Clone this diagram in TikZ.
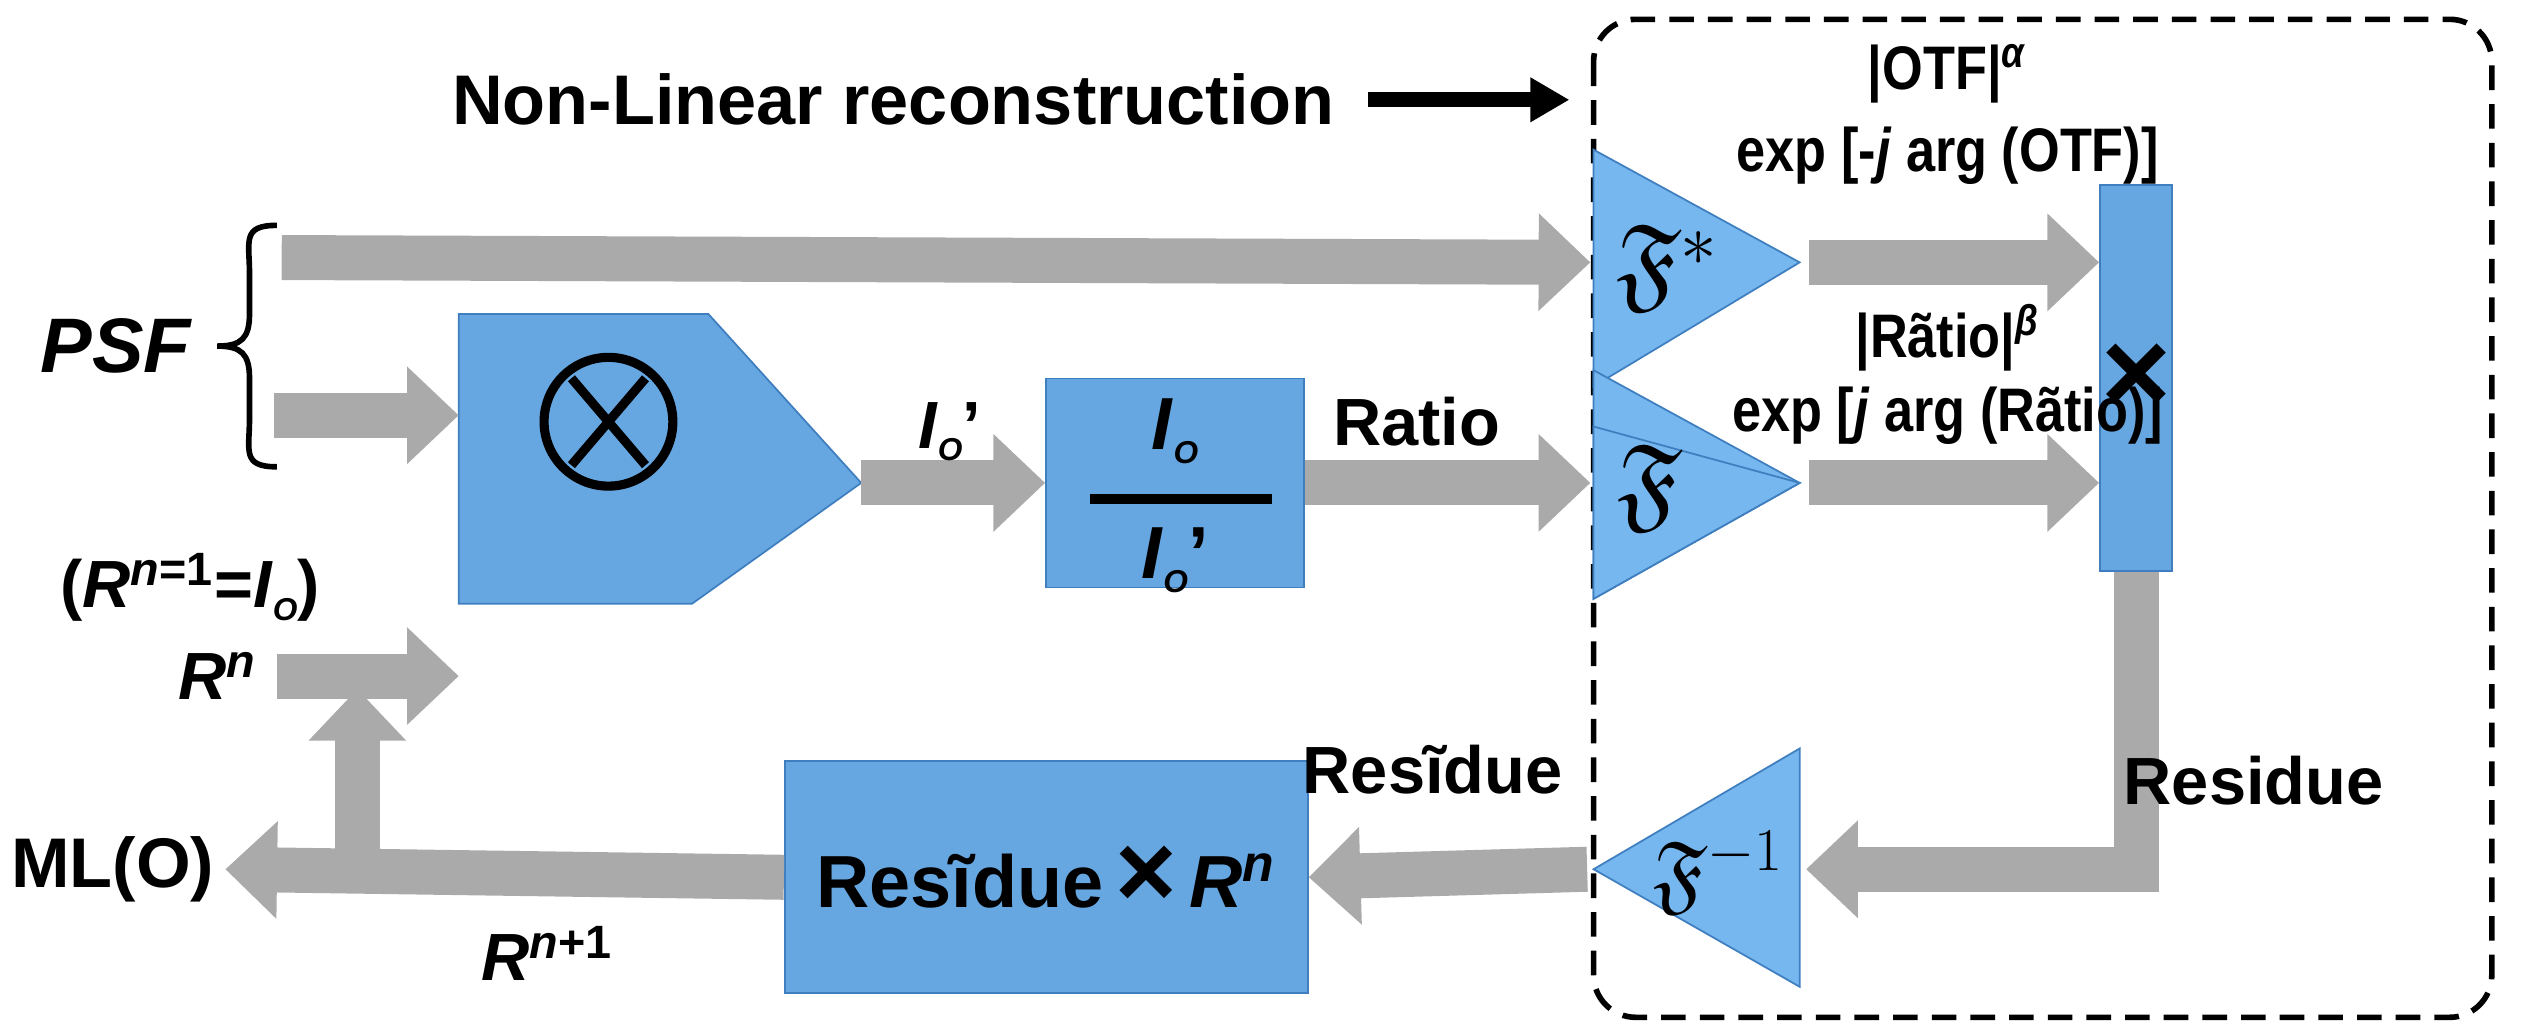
\documentclass[tikz,border=0pt]{standalone}
\usepackage{fontspec}
\usepackage{amssymb}
\setmainfont{Liberation Sans}
\newfontfamily\narrowfont{Liberation Sans}[FakeStretch=0.85]
\usetikzlibrary{arrows.meta}
\definecolor{arrowgray}{HTML}{AAAAAA}
\definecolor{boxblue}{HTML}{66A7E2}
\definecolor{triblue}{HTML}{76B7F0}
\definecolor{edgeblue}{HTML}{3F7FBF}
\newcommand{\myIO}{\textit{I}\raisebox{-0.35ex}{\small\textit{O}}}
\begin{document}
\begin{tikzpicture}[x=0.16097mm,y=-0.16097mm,
  garrow/.style={draw=arrowgray, line width=4.5mm, line join=miter,
     -{Triangle[length=0pt 1.15, width=0pt 2.1, fill=arrowgray]}},
  blk/.style={draw=edgeblue, fill=boxblue, line width=0.5pt},
  tri/.style={draw=edgeblue, fill=triblue, line width=0.5pt, line join=miter},
  lbl/.style={font=\fontsize{17.5}{20}\selectfont\bfseries\narrowfont, inner sep=1pt, align=center},
  wlbl/.style={font=\fontsize{19}{22}\selectfont\bfseries, inner sep=1pt, align=center},
  frak/.style={font=\fontsize{30}{32}\selectfont}]
\useasboundingbox (0,0) rectangle (1568,640);

% dashed region
\draw[line width=1.6pt, dash pattern=on 7pt off 4pt, rounded corners=12pt] (990,12) rectangle (1548,632);
\node[wlbl, font=\fontsize{20}{22}\selectfont\bfseries] (nlr) at (555,62) {Non-Linear reconstruction};
\coordinate (nlrend) at (975,62);
\draw[line width=1.5mm, -{Triangle[length=0pt 2.6, width=0pt 2.8]}] (850,62) -- (nlrend);

% triangles
\fill[tri] (990,93) -- (1118,163) -- (990,240) -- cycle;
\node[frak] (fstar) at (1036,166) {$\mathfrak{F}^{*}$};
\fill[tri] (990,230) -- (1118,300) -- (990,372) -- cycle;
\fill[tri] (990,265) -- (1118,300) -- (990,372) -- cycle;
\node[frak] (fwd) at (1025,303) {$\mathfrak{F}$};
\fill[tri] (1118,465) -- (990,540) -- (1118,613) -- cycle;
\node[frak, font=\fontsize{25}{27}\selectfont] (finv) at (1068,542) {$\mathfrak{F}^{-1}$};
\coordinate (fstarin) at (988,163);
\coordinate (fstarout) at (1124,163);
\coordinate (fwdin) at (988,300);
\coordinate (fwdout) at (1124,300);
\coordinate (finvin) at (1122,540);
\coordinate (finvout) at (986,540);

% multiplier box
\node[blk, minimum width=7.2mm, minimum height=38.6mm, inner sep=0] (mul) at (1327,235) {};
\node[font=\fontsize{34}{34}\selectfont\bfseries] at (mul) {×};

% pentagon convolution
\fill[blk] (285,195) -- (440,195) -- (535,300) -- (430,375) -- (285,375) -- cycle;
\coordinate (convout) at (535,300);
\coordinate (convin1) at (285,258);
\coordinate (convin2) at (285,420);
\draw[line width=2.6pt] (378,262) circle (40);
\draw[line width=2.6pt] (355,235) -- (401,289) (401,235) -- (355,289);

% division box
\node[blk, minimum width=25.8mm, minimum height=20.9mm] (div) at (730,300) {};
\node[wlbl, font=\fontsize{21}{23}\selectfont\bfseries] at (730,268) {\myIO};
\draw[line width=2.6pt] (677,310) -- (790,310);
\node[wlbl, font=\fontsize{21}{23}\selectfont\bfseries] at (730,348) {\myIO’};

% residue x Rn box
\node[blk, minimum width=52.3mm, minimum height=23.2mm] (rbox) at (650,545) {};
\node[wlbl, font=\fontsize{21}{23}\selectfont\bfseries] at (650,545) {Resĩdue\,{\fontsize{30}{30}\selectfont×}\,\textit{R}\textsuperscript{\textit{n}}};

% PSF brace and arrows
\coordinate (psf1) at (175,160);
\coordinate (psf2) at (170,258);
\coordinate (rnstart) at (172,420);
\draw[line width=1.6pt] (172,140) .. controls (150,140) and (155,150) .. (155,170)
  -- (155,195) .. controls (155,210) and (150,215) .. (135,215)
  .. controls (150,215) and (155,220) .. (155,235) -- (155,260)
  .. controls (155,280) and (150,290) .. (172,290);
\node[wlbl, font=\fontsize{22}{24}\selectfont\bfseries\itshape] (psf) at (72,215) {PSF};

\draw[garrow] (psf1) -- (fstarin);
\draw[garrow] (psf2) -- (convin1);
\draw[garrow] (rnstart) -- (convin2);
\draw[garrow] (convout) -- (div.west);
\draw[garrow] (div.east) -- (fwdin);
\draw[garrow] (fstarout) -- (mul.west |- fstarout);
\draw[garrow] (fwdout) -- (mul.west |- fwdout);
\draw[garrow] (mul.south) -- (1327,540) -- (finvin);
\draw[garrow] (finvout) -- (rbox.east);
\coordinate (mlo) at (140,540);
\coordinate (jn) at (222,554);
\coordinate (rntip) at (222,428);
\draw[garrow] (rbox.west) -- (mlo);
\draw[garrow] (jn) -- (rntip);

% labels
\node[lbl] at (1210,46) {|OTF|\textsuperscript{\textit{α}}};
\node[lbl] at (1210,97) {exp [-\textit{j} arg (OTF)]};
\node[lbl] at (1210,210) {|Rãtio|\textsuperscript{\textit{β}}};
\node[lbl] at (1210,258) {exp [\textit{j} arg (Rãtio)]};
\node[wlbl] at (590,268) {\myIO’};
\node[wlbl] at (880,262) {Ratio};
\node[wlbl] at (890,478) {Resĩdue};
\node[wlbl] at (1400,485) {Residue};
\node[wlbl] at (118,365) {(\textit{R}\textsuperscript{\textit{n}=1}=\myIO)};
\node[wlbl] at (135,420) {\textit{R}\textsuperscript{\textit{n}}};
\node[wlbl, font=\fontsize{20}{22}\selectfont\bfseries] at (70,540) {ML(O)};
\node[wlbl] at (340,592) {\textit{R}\textsuperscript{\textit{n}+1}};
\end{tikzpicture}
\end{document}
